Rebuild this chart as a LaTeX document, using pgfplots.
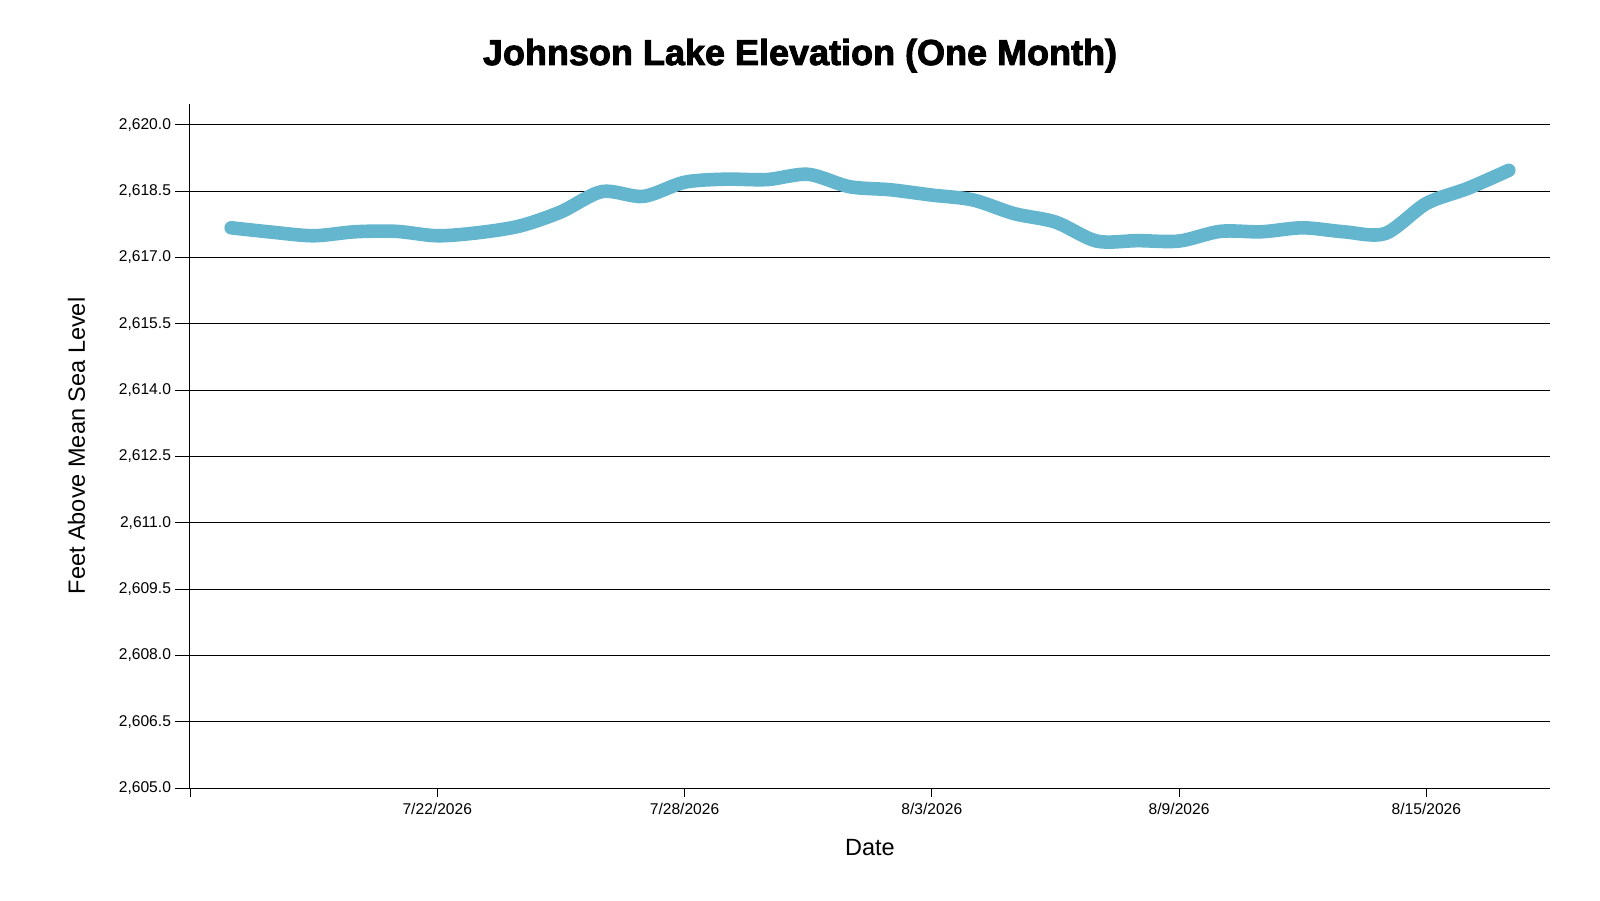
\documentclass[border=0pt]{standalone}
\usepackage{pgfplots}
\pgfplotsset{compat=1.18}
\usepackage{fontspec}
\setmainfont{Liberation Sans}
\newfontface\titlefont{Liberation Sans Bold}[FakeBold=2.5]
\definecolor{lakeblue}{RGB}{100,181,206}
\pgfplotsset{common/.style={
  at={(0,0)}, anchor=south west,
  scale only axis, width=680pt, height=342pt,
  xmin=0, xmax=33, ymin=2605, ymax=2620.47,
  xtick={0,6,12,18,24,30},
}}
\begin{document}
\begin{tikzpicture}
\useasboundingbox (-95pt,-56pt) rectangle (705pt,394pt);
\begin{axis}[
  common,
  axis x line=bottom, axis y line=left,
  axis line style={-, black, line width=0.5pt},
  major tick length=7.5pt,
  xtick style={draw=none},
  ytick style={black, line width=0.5pt},
  xticklabels={,7/22/2026,7/28/2026,8/3/2026,8/9/2026,8/15/2026},
  xticklabel style={yshift=3.3pt},
  ytick={2605,2606.5,2608,2609.5,2611,2612.5,2614,2615.5,2617,2618.5,2620},
  yticklabel style={xshift=1.5pt, /pgf/number format/.cd, fixed, fixed zerofill, precision=1, 1000 sep={,}, assume math mode=true},
  ticklabel style={font=\fontsize{7.8}{9}\selectfont},
  ymajorgrids, grid style={black, line width=0.5pt},
  xlabel={Date}, ylabel={Feet Above Mean Sea Level},
  label style={font=\fontsize{11.75}{14}\selectfont},
  xlabel style={at={(axis description cs:0.5,-0.0877)}, anchor=center},
  ylabel style={at={(axis description cs:-0.0835,0.5)}, anchor=center},
  tick align=outside,
]
\addplot[color=lakeblue, line width=6.8pt, line cap=round, line join=round, smooth, tension=0.5] coordinates {
(1,2617.67) (2,2617.57) (3,2617.49) (4,2617.58) (5,2617.59) (6,2617.49)
(7,2617.56) (8,2617.71) (9,2618.03) (10,2618.49) (11,2618.38) (12,2618.70)
(13,2618.77) (14,2618.76) (15,2618.88) (16,2618.60) (17,2618.53) (18,2618.41)
(19,2618.30) (20,2617.99) (21,2617.80) (22,2617.37) (23,2617.38) (24,2617.37)
(25,2617.59) (26,2617.58) (27,2617.67) (28,2617.58) (29,2617.54) (30,2618.22)
(31,2618.56) (32,2618.97)
};
\end{axis}
\begin{axis}[
  common,
  axis x line=bottom, axis y line=none,
  axis line style={draw=none},
  major tick length=4.5pt,
  xtick style={black, line width=0.5pt},
  xticklabels={},
  tick align=outside,
]
\end{axis}
\node[anchor=base, font=\titlefont\fontsize{18}{22}\selectfont] at (305pt,361.5pt) {Johnson Lake Elevation (One Month)};
\end{tikzpicture}
\end{document}
